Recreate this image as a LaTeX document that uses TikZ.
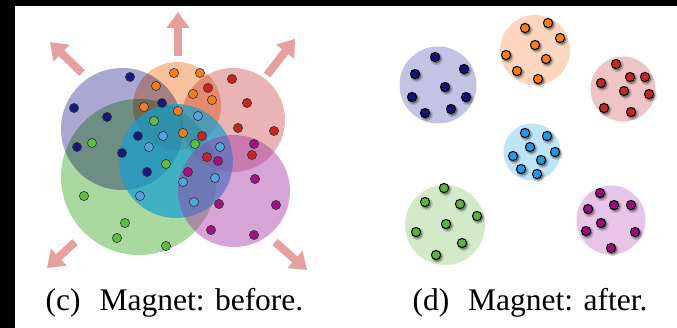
\documentclass[tikz,border=0pt]{standalone}
\usepackage{fontspec}
\setmainfont{Liberation Serif}
\usetikzlibrary{arrows.meta}
\definecolor{cBlue}{RGB}{90,90,172}
\definecolor{cGreen}{RGB}{85,180,65}
\definecolor{cPeach}{RGB}{245,145,80}
\definecolor{cRed}{RGB}{210,90,90}
\definecolor{cCyan}{RGB}{20,160,210}
\definecolor{cMag}{RGB}{165,55,165}
\definecolor{dNavy}{RGB}{25,25,125}
\definecolor{dOrange}{RGB}{240,125,30}
\definecolor{dRed}{RGB}{200,35,35}
\definecolor{dGreen}{RGB}{95,190,65}
\definecolor{dCyan}{RGB}{80,165,225}
\definecolor{dMag}{RGB}{160,20,130}
\definecolor{rNavy}{RGB}{195,195,230}
\definecolor{rPeach}{RGB}{252,214,190}
\definecolor{rRed}{RGB}{238,196,196}
\definecolor{rCyan}{RGB}{190,228,248}
\definecolor{rGreen}{RGB}{210,234,200}
\definecolor{rMag}{RGB}{232,196,232}
\definecolor{eNavy}{RGB}{20,20,120}
\definecolor{eOrange}{RGB}{245,127,23}
\definecolor{eRed}{RGB}{198,40,40}
\definecolor{eGreen}{RGB}{90,180,60}
\definecolor{eCyan}{RGB}{30,155,232}
\definecolor{eMag}{RGB}{155,15,125}
\definecolor{arrowpink}{RGB}{230,160,160}
\tikzset{
  bigarrow/.style={draw=arrowpink, line width=8pt,
    -{Triangle[width=22pt,length=16pt]}},
  dotL/.style={draw=black!80, line width=0.6pt},
  dotR/.style={draw=black, line width=1pt},
  caption/.style={font=\fontsize{31.5}{33}\selectfont, anchor=base, inner sep=0pt}
}
\newcommand{\leftdots}[2]{\foreach \p in {#2} {\filldraw[fill=#1, dotL] \p circle (4.6);}}
\newcommand{\rightdots}[2]{\foreach \p in {#2} {%
  \fill[black, opacity=0.15, shift={(1.6,1.9)}] \p circle (6.2);
  \fill[black, opacity=0.35, shift={(1.3,1.6)}] \p circle (5.0);
  \filldraw[fill=#1, dotR] \p circle (4.6);}}
\begin{document}
\begin{tikzpicture}[x=1pt,y=-1pt]
\useasboundingbox (0,0) rectangle (677,328);
\fill[white] (0,0) rectangle (677,328);
\fill[black] (0,0) rectangle (677,6);
\fill[black] (0,0) rectangle (15,328);

% arrows
\draw[bigarrow] (178,56) -- (178,12);
\draw[bigarrow] (82,73) -- (50,42);
\draw[bigarrow] (267,75) -- (295,39);
\draw[bigarrow] (75,242) -- (47,268);
\draw[bigarrow] (275,242) -- (307,270);

% overlapping clusters
\begin{scope}[blend mode=multiply]
\fill[cBlue, fill opacity=0.52] (122,129) circle (61);
\fill[cGreen, fill opacity=0.5] (139,177) circle (78);
\fill[cPeach, fill opacity=0.55] (177,106) circle (44);
\fill[cRed, fill opacity=0.45] (233,120) circle (52);
\end{scope}
\fill[cCyan, fill opacity=0.7] (176,161) circle (57);
\fill[cMag, fill opacity=0.45] (234,191) circle (56);

\leftdots{dNavy}{(130,77),(74,108),(107,117),(77,147),(122,153),(138,136),(147,172),(162,103)}
\leftdots{dOrange}{(174,73),(200,73),(156,86),(193,94),(212,100),(144,107),(178,111),(183,133)}
\leftdots{dRed}{(232,79),(208,88),(247,103),(238,128),(274,131),(202,136),(252,155),(207,157)}
\leftdots{dGreen}{(154,121),(92,143),(166,164),(195,144),(84,196),(125,223),(117,238),(166,246)}
\leftdots{dCyan}{(198,116),(163,136),(149,147),(220,147),(183,182),(215,178),(194,202),(140,196)}
\leftdots{dMag}{(254,144),(218,161),(188,172),(255,179),(276,205),(219,204),(211,230),(254,235)}

% separated clusters
\fill[rNavy] (438,85) circle (38.5);
\fill[rPeach] (535,50) circle (35);
\fill[rRed] (623,89) circle (32.5);
\fill[rCyan] (532,152) circle (28.5);
\fill[rGreen] (445,225) circle (40);
\fill[rMag] (611,220) circle (34.5);

\rightdots{eNavy}{(435,57),(415,74),(464,69),(445,87),(412,97),(466,97),(425,113),(451,109)}
\rightdots{eOrange}{(525,28),(548,23),(560,38),(535,45),(506,55),(546,59),(517,71),(538,79)}
\rightdots{eRed}{(616,64),(630,77),(645,77),(601,83),(624,91),(649,94),(604,108),(631,112)}
\rightdots{eCyan}{(525,133),(547,136),(530,147),(555,152),(513,156),(541,160),(521,169),(537,174)}
\rightdots{eGreen}{(444,188),(425,202),(460,204),(477,216),(446,224),(416,232),(462,243),(436,255)}
\rightdots{eMag}{(600,193),(588,209),(614,205),(631,205),(601,223),(586,231),(635,232),(611,248)}

\node[caption] (capc) at (174.5,311) {(c)\hspace{0.6em}Magnet: before.};
\node[caption] (capd) at (530,311) {(d)\hspace{0.6em}Magnet: after.};
\end{tikzpicture}
\end{document}
